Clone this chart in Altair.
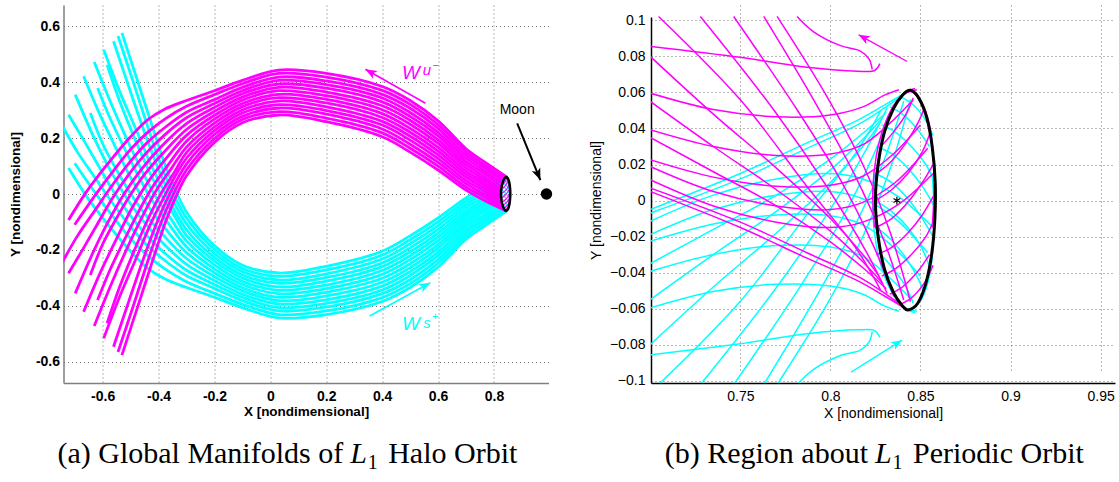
import math
import altair as alt
import pandas as pd

MAGENTA = "#ff00ff"
CYAN = "#00ffff"
SANS = "Liberation Sans"
SERIF = "Liberation Serif"

# ------------------------------------------------------------------
# (a) global manifolds, every trajectory listed from the halo orbit out
# ------------------------------------------------------------------
GLOBAL_UNSTABLE_X = [
    [0.843, 0.770, 0.700, 0.600, 0.500, 0.400, 0.200, 0.030, -0.100, -0.200, -0.300, -0.340, -0.375, -0.420, -0.475, -0.531],
    [0.837, 0.770, 0.700, 0.600, 0.500, 0.400, 0.200, 0.030, -0.100, -0.200, -0.300, -0.352, -0.390, -0.435, -0.490, -0.545],
    [0.832, 0.770, 0.700, 0.600, 0.500, 0.400, 0.200, 0.030, -0.100, -0.200, -0.300, -0.365, -0.405, -0.450, -0.505, -0.561],
    [0.828, 0.770, 0.700, 0.600, 0.500, 0.400, 0.200, 0.030, -0.100, -0.200, -0.300, -0.380, -0.425, -0.480, -0.540, -0.596],
    [0.826, 0.770, 0.700, 0.600, 0.500, 0.400, 0.200, 0.030, -0.100, -0.200, -0.300, -0.345, -0.395, -0.440, -0.490, -0.540, -0.584],
    [0.825, 0.770, 0.700, 0.600, 0.500, 0.400, 0.200, 0.030, -0.100, -0.200, -0.300, -0.355, -0.410, -0.460, -0.515, -0.570, -0.630],
    [0.8245, 0.770, 0.700, 0.600, 0.500, 0.400, 0.200, 0.030, -0.100, -0.200, -0.300, -0.365, -0.425, -0.475, -0.525, -0.575, -0.618],
    [0.8245, 0.770, 0.700, 0.600, 0.500, 0.400, 0.200, 0.030, -0.100, -0.200, -0.300, -0.375, -0.440, -0.495, -0.550, -0.610, -0.668],
    [0.825, 0.770, 0.700, 0.600, 0.500, 0.400, 0.200, 0.030, -0.100, -0.200, -0.300, -0.385, -0.450, -0.505, -0.555, -0.600, -0.644],
    [0.8265, 0.770, 0.700, 0.600, 0.500, 0.400, 0.200, 0.030, -0.100, -0.200, -0.300, -0.390, -0.460, -0.520, -0.570, -0.630, -0.698],
    [0.829, 0.770, 0.700, 0.600, 0.500, 0.400, 0.200, 0.030, -0.100, -0.200, -0.300, -0.380, -0.450, -0.510, -0.565, -0.620, -0.672, -0.722],
    [0.833, 0.770, 0.700, 0.600, 0.500, 0.400, 0.200, 0.030, -0.100, -0.200, -0.300, -0.375, -0.445, -0.510, -0.570, -0.625, -0.690, -0.750],
    [0.838, 0.770, 0.700, 0.600, 0.500, 0.400, 0.200, 0.030, -0.100, -0.200, -0.300, -0.375, -0.440, -0.500, -0.560, -0.620, -0.700],
    [0.845, 0.770, 0.700, 0.600, 0.500, 0.400, 0.200, 0.030, -0.100, -0.200, -0.300, -0.380, -0.440, -0.500, -0.560, -0.612, -0.660, -0.722],
]
GLOBAL_UNSTABLE_Y = [
    [-0.060, -0.025, 0.014, 0.086, 0.150, 0.205, 0.259, 0.283, 0.255, 0.185, 0.065, -0.015, -0.100, -0.235, -0.405, -0.577],
    [-0.056, -0.014, 0.025, 0.100, 0.164, 0.219, 0.272, 0.295, 0.267, 0.199, 0.086, -0.012, -0.100, -0.230, -0.400, -0.566],
    [-0.049, -0.004, 0.037, 0.113, 0.178, 0.233, 0.286, 0.308, 0.278, 0.213, 0.107, -0.010, -0.100, -0.220, -0.380, -0.547],
    [-0.040, 0.007, 0.048, 0.127, 0.193, 0.247, 0.299, 0.320, 0.290, 0.227, 0.128, -0.010, -0.100, -0.230, -0.370, -0.517],
    [-0.030, 0.017, 0.060, 0.140, 0.207, 0.260, 0.312, 0.333, 0.301, 0.240, 0.148, 0.075, -0.005, -0.095, -0.210, -0.335, -0.463],
    [-0.019, 0.028, 0.071, 0.154, 0.221, 0.274, 0.326, 0.345, 0.313, 0.254, 0.168, 0.090, 0.010, -0.085, -0.200, -0.325, -0.473],
    [-0.008, 0.038, 0.082, 0.167, 0.235, 0.288, 0.339, 0.357, 0.324, 0.268, 0.189, 0.105, 0.020, -0.070, -0.170, -0.275, -0.380],
    [0.004, 0.049, 0.094, 0.181, 0.250, 0.302, 0.352, 0.370, 0.336, 0.282, 0.210, 0.125, 0.040, -0.050, -0.160, -0.285, -0.422],
    [0.015, 0.059, 0.105, 0.194, 0.264, 0.316, 0.365, 0.382, 0.347, 0.296, 0.231, 0.145, 0.070, -0.010, -0.095, -0.180, -0.290],
    [0.026, 0.070, 0.116, 0.208, 0.278, 0.330, 0.379, 0.394, 0.359, 0.310, 0.252, 0.170, 0.090, 0.005, -0.080, -0.200, -0.356],
    [0.037, 0.080, 0.128, 0.221, 0.292, 0.344, 0.392, 0.407, 0.370, 0.324, 0.273, 0.210, 0.140, 0.065, -0.015, -0.110, -0.200, -0.284],
    [0.047, 0.091, 0.139, 0.235, 0.307, 0.357, 0.405, 0.419, 0.382, 0.338, 0.293, 0.240, 0.180, 0.105, 0.025, -0.055, -0.150, -0.255],
    [0.055, 0.101, 0.151, 0.248, 0.321, 0.371, 0.419, 0.432, 0.395, 0.356, 0.314, 0.270, 0.220, 0.160, 0.085, 0.005, -0.110],
    [0.061, 0.112, 0.162, 0.262, 0.335, 0.385, 0.432, 0.444, 0.407, 0.370, 0.335, 0.303, 0.265, 0.205, 0.135, 0.070, 0.005, -0.093],
]
# stable branch runs over the same abscissae, on the other side of y = 0
GLOBAL_STABLE_X = GLOBAL_UNSTABLE_X
GLOBAL_STABLE_Y = [
    [0.060, 0.025, -0.014, -0.086, -0.150, -0.205, -0.259, -0.283, -0.255, -0.185, -0.065, 0.015, 0.100, 0.235, 0.405, 0.577],
    [0.056, 0.014, -0.025, -0.100, -0.164, -0.219, -0.272, -0.295, -0.267, -0.199, -0.086, 0.012, 0.100, 0.230, 0.400, 0.566],
    [0.049, 0.004, -0.037, -0.113, -0.178, -0.233, -0.286, -0.308, -0.278, -0.213, -0.107, 0.010, 0.100, 0.220, 0.380, 0.547],
    [0.040, -0.007, -0.048, -0.127, -0.193, -0.247, -0.299, -0.320, -0.290, -0.227, -0.128, 0.010, 0.100, 0.230, 0.370, 0.517],
    [0.030, -0.017, -0.060, -0.140, -0.207, -0.260, -0.312, -0.333, -0.301, -0.240, -0.148, -0.075, 0.005, 0.095, 0.210, 0.335, 0.463],
    [0.019, -0.028, -0.071, -0.154, -0.221, -0.274, -0.326, -0.345, -0.313, -0.254, -0.168, -0.090, -0.010, 0.085, 0.200, 0.325, 0.473],
    [0.008, -0.038, -0.082, -0.167, -0.235, -0.288, -0.339, -0.357, -0.324, -0.268, -0.189, -0.105, -0.020, 0.070, 0.170, 0.275, 0.380],
    [-0.004, -0.049, -0.094, -0.181, -0.250, -0.302, -0.352, -0.370, -0.336, -0.282, -0.210, -0.125, -0.040, 0.050, 0.160, 0.285, 0.422],
    [-0.015, -0.059, -0.105, -0.194, -0.264, -0.316, -0.365, -0.382, -0.347, -0.296, -0.231, -0.145, -0.070, 0.010, 0.095, 0.180, 0.290],
    [-0.026, -0.070, -0.116, -0.208, -0.278, -0.330, -0.379, -0.394, -0.359, -0.310, -0.252, -0.170, -0.090, -0.005, 0.080, 0.200, 0.356],
    [-0.037, -0.080, -0.128, -0.221, -0.292, -0.344, -0.392, -0.407, -0.370, -0.324, -0.273, -0.210, -0.140, -0.065, 0.015, 0.110, 0.200, 0.284],
    [-0.047, -0.091, -0.139, -0.235, -0.307, -0.357, -0.405, -0.419, -0.382, -0.338, -0.293, -0.240, -0.180, -0.105, -0.025, 0.055, 0.150, 0.255],
    [-0.055, -0.101, -0.151, -0.248, -0.321, -0.371, -0.419, -0.432, -0.395, -0.356, -0.314, -0.270, -0.220, -0.160, -0.085, -0.005, 0.110],
    [-0.061, -0.112, -0.162, -0.262, -0.335, -0.385, -0.432, -0.444, -0.407, -0.370, -0.335, -0.303, -0.265, -0.205, -0.135, -0.070, -0.005, 0.093],
]

# ------------------------------------------------------------------
# (b) neighbourhood of the periodic orbit
# ------------------------------------------------------------------
NEAR_UNSTABLE_X = [
    [0.7815, 0.7907, 0.8056, 0.8167, 0.8215, 0.8232],
    [0.7000, 0.7500, 0.7870, 0.8150, 0.8245, 0.8275],
    [0.7000, 0.7350, 0.7700, 0.8000, 0.8180, 0.8300, 0.8380],
    [0.7000, 0.7350, 0.7700, 0.8000, 0.8180, 0.8320, 0.8460],
    [0.7000, 0.7350, 0.7700, 0.8000, 0.8180, 0.8340, 0.8500],
    [0.7000, 0.7350, 0.7700, 0.8000, 0.8180, 0.8360, 0.8540],
    [0.7000, 0.7350, 0.7700, 0.8000, 0.8180, 0.8380, 0.8570],
    [0.7000, 0.7500, 0.7870, 0.8150, 0.8280, 0.8380],
    [0.7000, 0.7500, 0.7870, 0.8150, 0.8300, 0.8410],
    [0.7000, 0.7350, 0.7700, 0.8000, 0.8180, 0.8270],
    [0.7000, 0.7350, 0.7700, 0.8000, 0.8180, 0.8290],
    [0.7000, 0.7350, 0.7700, 0.8000, 0.8200, 0.8310],
    [0.7046, 0.7500, 0.7870, 0.8148, 0.8278],
    [0.7278, 0.7685, 0.7980, 0.8204, 0.8315],
    [0.7463, 0.7815, 0.8056, 0.8241, 0.8352],
    [0.7630, 0.7907, 0.8130, 0.8296, 0.8407],
    [0.7704, 0.7980, 0.8185, 0.8333, 0.8444],
    [0.8255, 0.8340, 0.8430, 0.8510, 0.8575],
    [0.8285, 0.8360, 0.8450, 0.8530, 0.8580],
    [0.8330, 0.8400, 0.8480, 0.8550],
    [0.8250, 0.8340, 0.8430, 0.8510, 0.8570],
    [0.8250, 0.8340, 0.8430, 0.8510, 0.8555],
    [0.8258, 0.8340, 0.8420, 0.8490, 0.8520],
    [0.8280, 0.8350, 0.8420, 0.8460],
    [0.8380, 0.8450, 0.8520, 0.8570],
    [0.8470, 0.8420, 0.8360, 0.8300, 0.8255, 0.8235, 0.8245],
    [0.8480, 0.8410, 0.8345, 0.8290, 0.8250],
    [0.8460, 0.8510, 0.8550, 0.8570, 0.8575, 0.8565],
]
NEAR_UNSTABLE_Y = [
    [0.1022, 0.0937, 0.0860, 0.0830, 0.0785, 0.0728],
    [0.0856, 0.0795, 0.0740, 0.0718, 0.0722, 0.0760],
    [0.0596, 0.0505, 0.0465, 0.0475, 0.0520, 0.0585, 0.0615],
    [0.0393, 0.0300, 0.0250, 0.0258, 0.0310, 0.0420, 0.0560],
    [0.0226, 0.0130, 0.0080, 0.0085, 0.0135, 0.0250, 0.0420],
    [0.0189, 0.0050, -0.0030, -0.0050, -0.0010, 0.0100, 0.0290],
    [0.0115, -0.0030, -0.0120, -0.0150, -0.0120, -0.0020, 0.0150],
    [0.0070, -0.0120, -0.0290, -0.0420, -0.0500, -0.0570],
    [0.0050, -0.0150, -0.0320, -0.0445, -0.0530, -0.0595],
    [0.0800, 0.0480, 0.0180, -0.0100, -0.0300, -0.0420],
    [0.0550, 0.0300, 0.0060, -0.0170, -0.0340, -0.0460],
    [0.0350, 0.0160, -0.0030, -0.0230, -0.0390, -0.0490],
    [0.1022, 0.0559, 0.0078, -0.0274, -0.0496],
    [0.1022, 0.0504, 0.0078, -0.0293, -0.0515],
    [0.1022, 0.0504, 0.0115, -0.0256, -0.0533],
    [0.1022, 0.0559, 0.0152, -0.0219, -0.0552],
    [0.1022, 0.0578, 0.0189, -0.0180, -0.0561],
    [-0.0300, -0.0260, -0.0180, -0.0080, 0.0030],
    [-0.0420, -0.0380, -0.0300, -0.0200, -0.0100],
    [-0.0520, -0.0480, -0.0400, -0.0300],
    [-0.0150, -0.0100, -0.0010, 0.0100, 0.0200],
    [0.0000, 0.0060, 0.0150, 0.0270, 0.0380],
    [0.0150, 0.0220, 0.0320, 0.0440, 0.0510],
    [0.0300, 0.0380, 0.0480, 0.0570],
    [-0.0580, -0.0540, -0.0460, -0.0360],
    [0.0622, 0.0605, 0.0540, 0.0420, 0.0250, 0.0050, -0.0150],
    [0.0615, 0.0590, 0.0500, 0.0350, 0.0120],
    [0.0600, 0.0540, 0.0420, 0.0250, 0.0050, -0.0150],
]
NEAR_STABLE_X = NEAR_UNSTABLE_X
NEAR_STABLE_Y = [
    [-0.1022, -0.0937, -0.0860, -0.0830, -0.0785, -0.0728],
    [-0.0856, -0.0795, -0.0740, -0.0718, -0.0722, -0.0760],
    [-0.0596, -0.0505, -0.0465, -0.0475, -0.0520, -0.0585, -0.0615],
    [-0.0393, -0.0300, -0.0250, -0.0258, -0.0310, -0.0420, -0.0560],
    [-0.0226, -0.0130, -0.0080, -0.0085, -0.0135, -0.0250, -0.0420],
    [-0.0189, -0.0050, 0.0030, 0.0050, 0.0010, -0.0100, -0.0290],
    [-0.0115, 0.0030, 0.0120, 0.0150, 0.0120, 0.0020, -0.0150],
    [-0.0070, 0.0120, 0.0290, 0.0420, 0.0500, 0.0570],
    [-0.0050, 0.0150, 0.0320, 0.0445, 0.0530, 0.0595],
    [-0.0800, -0.0480, -0.0180, 0.0100, 0.0300, 0.0420],
    [-0.0550, -0.0300, -0.0060, 0.0170, 0.0340, 0.0460],
    [-0.0350, -0.0160, 0.0030, 0.0230, 0.0390, 0.0490],
    [-0.1022, -0.0559, -0.0078, 0.0274, 0.0496],
    [-0.1022, -0.0504, -0.0078, 0.0293, 0.0515],
    [-0.1022, -0.0504, -0.0115, 0.0256, 0.0533],
    [-0.1022, -0.0559, -0.0152, 0.0219, 0.0552],
    [-0.1022, -0.0578, -0.0189, 0.0180, 0.0561],
    [0.0300, 0.0260, 0.0180, 0.0080, -0.0030],
    [0.0420, 0.0380, 0.0300, 0.0200, 0.0100],
    [0.0520, 0.0480, 0.0400, 0.0300],
    [0.0150, 0.0100, 0.0010, -0.0100, -0.0200],
    [0.0000, -0.0060, -0.0150, -0.0270, -0.0380],
    [-0.0150, -0.0220, -0.0320, -0.0440, -0.0510],
    [-0.0300, -0.0380, -0.0480, -0.0570],
    [0.0580, 0.0540, 0.0460, 0.0360],
    [-0.0622, -0.0605, -0.0540, -0.0420, -0.0250, -0.0050, 0.0150],
    [-0.0615, -0.0590, -0.0500, -0.0350, -0.0120],
    [-0.0600, -0.0540, -0.0420, -0.0250, -0.0050, 0.0150],
]
# interior pieces of the tubes, also drawn in the global view
INNER_CURVES = slice(17, 25)

# halo orbit projected on the x-y plane
ORBIT_X = [0.8444, 0.8400, 0.8350, 0.8300, 0.8265, 0.8250, 0.8265, 0.8300, 0.8350, 0.8400,
           0.8432, 0.8485, 0.8530, 0.8562, 0.8580, 0.8582, 0.8565, 0.8535, 0.8490]
ORBIT_Y = [0.0612, 0.0585, 0.0510, 0.0380, 0.0200, 0.0000, -0.0200, -0.0380, -0.0510, -0.0585,
           -0.0607, -0.0570, -0.0460, -0.0300, -0.0100, 0.0100, 0.0300, 0.0460, 0.0570]
L1_X, L1_Y = [0.8369], [0.0]
MOON_X, MOON_Y = [0.9878], [0.0]

# annotation arrows: start -> tip
G_ARROW_X0 = [0.555, 0.355, 0.883]
G_ARROW_Y0 = [0.325, -0.437, 0.253]
G_ARROW_X1 = [0.340, 0.572, 0.966]
G_ARROW_Y1 = [0.447, -0.318, 0.050]
G_ARROW_COLOR = [MAGENTA, CYAN, "black"]
G_ARROW_WIDTH = [1.6, 1.6, 2.0]

N_ARROW_X0 = [0.8426, 0.8115]
N_ARROW_Y0 = [0.0772, -0.0953]
N_ARROW_X1 = [0.8157, 0.8398]
N_ARROW_Y1 = [0.0920, -0.0775]
N_ARROW_COLOR = [MAGENTA, CYAN]

G_TICKS_X = [-0.6, -0.4, -0.2, 0, 0.2, 0.4, 0.6, 0.8]
G_TICKS_Y = [-0.6, -0.4, -0.2, 0, 0.2, 0.4, 0.6]
N_TICKS_X = [0.75, 0.8, 0.85, 0.9, 0.95]
N_TICKS_Y = [-0.1, -0.08, -0.06, -0.04, -0.02, 0, 0.02, 0.04, 0.06, 0.08, 0.1]

# ------------------------------------------------------------------
# geometry of the two panels (same outer height, panel b starts lower)
# ------------------------------------------------------------------
GW, GH = 485, 378
NW, NH = 464, 366
N_TOP = GH - NH
G_XDOM, G_YDOM = [-0.74, 0.995], [-0.677, 0.677]
N_XDOM, N_YDOM = [0.7004, 0.958], [-0.1013, 0.1019]

ARROW_HEAD = "M0,0L0.75,1.9L0,1.4L-0.75,1.9Z"
ASTERISK = "M0,-1L0,1M-0.87,-0.5L0.87,0.5M-0.87,0.5L0.87,-0.5"


def curves_frame(xs_list, ys_list, tag):
    rows = []
    for c, (xs, ys) in enumerate(zip(xs_list, ys_list)):
        for i, (x, y) in enumerate(zip(xs, ys)):
            rows.append({"curve": f"{tag}{c}", "i": i, "x": x, "y": y})
    return pd.DataFrame(rows)


def head_angle(x0, y0, x1, y1, sx, sy):
    return math.degrees(math.atan2((x1 - x0) * sx, (y1 - y0) * sy)) % 360


def axis_style(bold, domain_color):
    return dict(
        labelFont=SANS, labelFontWeight="bold" if bold else "normal", labelFontSize=14,
        labelColor="black", ticks=False, tickSize=0,
        domainColor=domain_color, domainWidth=1.5,
        grid=True, gridColor="#707070", gridDash=[1, 3], gridWidth=1,
        titleFont=SANS, titleFontWeight="bold" if bold else "normal",
        titleFontSize=13.5 if bold else 14, titleColor="black",
        titleBaseline="middle", titleAlign="center",
    )


G_LABEL = "datum.value == 0 ? '0' : (datum.value < 0 ? '-' : '') + format(abs(datum.value), '.1f')"
N_LABEL = "datum.value == 0 ? '0' : (datum.value < 0 ? '\u2212' : '') + format(abs(datum.value), '.2~f')"


def gx():
    return alt.X("x:Q", scale=alt.Scale(domain=G_XDOM, nice=False, zero=False),
                 axis=alt.Axis(values=G_TICKS_X, labelExpr=G_LABEL, labelPadding=6,
                               title="X [nondimensional]", titleX=GW / 2, titleY=28,
                               **axis_style(True, "#7f7f7f")))


def gy():
    return alt.Y("y:Q", scale=alt.Scale(domain=G_YDOM, nice=False, zero=False),
                 axis=alt.Axis(values=G_TICKS_Y, labelExpr=G_LABEL, labelPadding=4,
                               title="Y [nondimensional]", titleX=-48.3, titleY=GH / 2,
                               titleAngle=270, **axis_style(True, "#7f7f7f")))


def nx():
    return alt.X("x:Q", scale=alt.Scale(domain=N_XDOM, nice=False, zero=False),
                 axis=alt.Axis(values=N_TICKS_X, labelExpr=N_LABEL, labelPadding=6,
                               title="X [nondimensional]", titleX=NW / 2, titleY=30,
                               **axis_style(False, "black")))


def ny():
    return alt.Y("y:Q", scale=alt.Scale(domain=N_YDOM, range=[GH, N_TOP], nice=False, zero=False),
                 axis=alt.Axis(values=N_TICKS_Y, labelExpr=N_LABEL, labelPadding=6,
                               title="Y [nondimensional]", titleX=-54.3, titleY=N_TOP + NH / 2,
                               titleAngle=270, **axis_style(False, "black")))


def trajectories(df, color, width, xenc, yenc):
    return alt.Chart(df).mark_line(color=color, strokeWidth=width, clip=True,
                                   interpolate="catmull-rom").encode(
        x=xenc(), y=yenc(), detail="curve:N", order="i:Q")


def orbit(width, xenc, yenc):
    df = pd.DataFrame({"curve": "orbit", "i": range(len(ORBIT_X)), "x": ORBIT_X, "y": ORBIT_Y})
    return alt.Chart(df).mark_line(color="black", strokeWidth=width, interpolate="cardinal-closed").encode(
        x=xenc(), y=yenc(), order="i:Q")


def arrows(x0, y0, x1, y1, colors, widths, sx, sy, size, xenc, yenc):
    ang = [head_angle(a, b, c, d, sx, sy) for a, b, c, d in zip(x0, y0, x1, y1)]
    shaft = pd.DataFrame({"x": x0, "y": y0, "x2": x1, "y2": y1, "c": colors, "w": widths})
    tips = pd.DataFrame({"x": x1, "y": y1, "c": colors, "a": ang})
    r = alt.Chart(shaft).mark_rule().encode(
        x=xenc(), y=yenc(), x2="x2:Q", y2="y2:Q",
        color=alt.Color("c:N", scale=None), strokeWidth=alt.StrokeWidth("w:Q", scale=None))
    h = alt.Chart(tips).mark_point(shape=ARROW_HEAD, filled=True, opacity=1, size=size).encode(
        x=xenc(), y=yenc(), color=alt.Color("c:N", scale=None), angle=alt.Angle("a:Q", scale=None))
    return [r, h]


def label(x, y, text, color, size, style="normal", align="left"):
    df = pd.DataFrame({"x": [x], "y": [y], "t": [text]})
    return alt.Chart(df).mark_text(font=SANS, fontSize=size, fontStyle=style, color=color,
                                   align=align, baseline="alphabetic").encode(
        x=gx(), y=gy(), text="t:N")


def caption(px, py, text, size, style="normal", align="left"):
    return alt.Chart(pd.DataFrame({"k": [0]})).mark_text(
        font=SERIF, fontSize=size, fontStyle=style, color="black", align=align,
        baseline="alphabetic").encode(x=alt.value(px), y=alt.value(py), text=alt.value(text))


G_SX, G_SY = GW / (G_XDOM[1] - G_XDOM[0]), GH / (G_YDOM[1] - G_YDOM[0])
N_SX, N_SY = NW / (N_XDOM[1] - N_XDOM[0]), NH / (N_YDOM[1] - N_YDOM[0])

G_LEFT, N_LEFT, TOP = 63.3, 651.0, 5.0
CAP_BASE, SUB_BASE, CAP_SIZE, SUB_SIZE = 463, 469, 30, 20

# ---------------- panel (a) ----------------
g_layers = [
    trajectories(curves_frame(GLOBAL_STABLE_X, GLOBAL_STABLE_Y, "s"), CYAN, 2.8, gx, gy),
    trajectories(curves_frame(GLOBAL_UNSTABLE_X, GLOBAL_UNSTABLE_Y, "u"), MAGENTA, 2.8, gx, gy),
    trajectories(curves_frame(NEAR_STABLE_X[INNER_CURVES], NEAR_STABLE_Y[INNER_CURVES], "si"), CYAN, 1.2, gx, gy),
    trajectories(curves_frame(NEAR_UNSTABLE_X[INNER_CURVES], NEAR_UNSTABLE_Y[INNER_CURVES], "ui"), MAGENTA, 1.2, gx, gy),
    orbit(2.5, gx, gy),
    alt.Chart(pd.DataFrame({"x": MOON_X, "y": MOON_Y})).mark_point(
        shape="circle", filled=True, color="black", opacity=1, size=130).encode(x=gx(), y=gy()),
    *arrows(G_ARROW_X0, G_ARROW_Y0, G_ARROW_X1, G_ARROW_Y1, G_ARROW_COLOR, G_ARROW_WIDTH,
            G_SX, G_SY, 150, gx, gy),
    label(0.883, 0.287, "Moon", "black", 14, align="center"),
    label(0.471, 0.412, "W", MAGENTA, 19, "italic"),
    label(0.545, 0.428, "u", MAGENTA, 15, "italic"),
    label(0.580, 0.447, "\u2212", MAGENTA, 11),
    label(0.471, -0.487, "W", CYAN, 19, "italic"),
    label(0.547, -0.480, "s", CYAN, 15, "italic"),
    label(0.578, -0.452, "+", CYAN, 11),
    caption(343 - G_LEFT, CAP_BASE - TOP, "(a) Global Manifolds of", CAP_SIZE, align="right"),
    caption(350 - G_LEFT, CAP_BASE - TOP, "L", CAP_SIZE, "italic"),
    caption(367.5 - G_LEFT, SUB_BASE - TOP, "1", SUB_SIZE),
    caption(388 - G_LEFT, CAP_BASE - TOP, "Halo Orbit", CAP_SIZE),
]
panel_a = alt.layer(*g_layers).properties(width=GW, height=GH)

# ---------------- panel (b) ----------------
n_layers = [
    trajectories(curves_frame(NEAR_STABLE_X, NEAR_STABLE_Y, "s"), CYAN, 1.5, nx, ny),
    trajectories(curves_frame(NEAR_UNSTABLE_X, NEAR_UNSTABLE_Y, "u"), MAGENTA, 1.5, nx, ny),
    orbit(3.0, nx, ny),
    alt.Chart(pd.DataFrame({"x": L1_X, "y": L1_Y})).mark_point(
        shape=ASTERISK, filled=False, color="black", strokeWidth=1.2, opacity=1, size=60).encode(x=nx(), y=ny()),
    *arrows(N_ARROW_X0, N_ARROW_Y0, N_ARROW_X1, N_ARROW_Y1, N_ARROW_COLOR, [1.4, 1.4],
            N_SX, N_SY, 140, nx, ny),
    caption(868 - N_LEFT, CAP_BASE - TOP, "(b) Region about", CAP_SIZE, align="right"),
    caption(875 - N_LEFT, CAP_BASE - TOP, "L", CAP_SIZE, "italic"),
    caption(892.5 - N_LEFT, SUB_BASE - TOP, "1", SUB_SIZE),
    caption(913 - N_LEFT, CAP_BASE - TOP, "Periodic Orbit", CAP_SIZE),
]
panel_b = alt.layer(*n_layers).properties(width=NW, height=GH)

chart = alt.hconcat(panel_a, panel_b, spacing=36.5).properties(
    padding={"left": 7.5, "top": 5, "right": 0, "bottom": 5},
    background="white",
).configure_view(stroke=None)

chart.save("out.html", embed_options={"renderer": "svg", "actions": False})
